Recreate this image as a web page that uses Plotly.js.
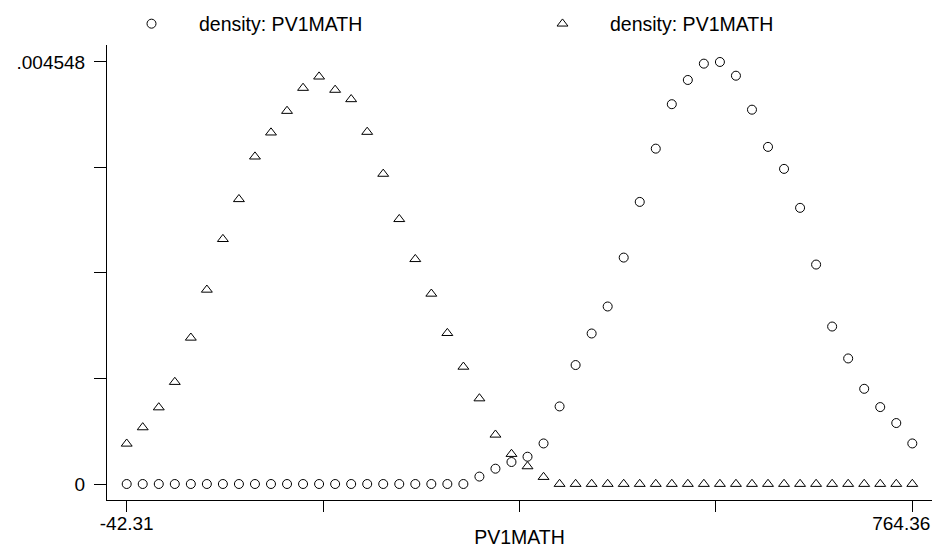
<!DOCTYPE html>
<html>
<head>
<meta charset="utf-8">
<script src="https://cdn.plot.ly/plotly-3.0.1.min.js"></script>
<style>html,body{margin:0;padding:0;background:#fff;}#chart{width:933px;height:548px;}</style>
</head>
<body>
<div id="chart"></div>
<script>
// Evaluation grid: 50 points from -42.31 to 764.36
const xMin = -42.31;
const xMax = 764.36;
const nPoints = 50;
const xGrid = [];
for (let i = 0; i < nPoints; i++) xGrid.push(xMin + i * (xMax - xMin) / (nPoints - 1));

// density values (circles)
const densityCircle = [
  0, 0, 0, 0, 0, 0, 0, 0, 0, 0,
  0, 0, 0, 0, 0, 0, 0, 0, 0, 0,
  0, 0, 0.000080, 0.000165, 0.000237, 0.000294, 0.000437, 0.000836, 0.001282, 0.001622,
  0.001913, 0.002440, 0.003040, 0.003614, 0.004093, 0.004354, 0.004530, 0.004548, 0.004400, 0.004034,
  0.003633, 0.003396, 0.002976, 0.002365, 0.001697, 0.001353, 0.001026, 0.000829, 0.000657, 0.000437
];
// density values (triangles)
const densityTriangle = [
  0.000434, 0.000610, 0.000825, 0.001099, 0.001576, 0.002093, 0.002639, 0.003069, 0.003528, 0.003787,
  0.004020, 0.004268, 0.004390, 0.004247, 0.004146, 0.003794, 0.003342, 0.002854, 0.002423, 0.002050,
  0.001626, 0.001263, 0.000922, 0.000531, 0.000323, 0.000190, 0.000075, 0, 0, 0,
  0, 0, 0, 0, 0, 0, 0, 0, 0, 0,
  0, 0, 0, 0, 0, 0, 0, 0, 0, 0
];

const seriesNames = ["density: PV1MATH", "density: PV1MATH"];
const yMaxLabel = 0.004548;
const yTickVals = [0, yMaxLabel / 4, yMaxLabel / 2, 3 * yMaxLabel / 4, yMaxLabel];
const yTickText = ["0", "", "", "", ".004548"];
const xTickVals = [xMin, xMin + (xMax - xMin) / 4, xMin + (xMax - xMin) / 2, xMin + 3 * (xMax - xMin) / 4, xMax];
const xTickText = ["-42.31", "", "", "", ""];
const xEndTickVals = [xMax];
const xEndTickText = ["764.36"];
const xTitle = "PV1MATH";

const font = "Liberation Sans, Arial, sans-serif";

const traces = [
  {
    x: xGrid, y: densityCircle, name: seriesNames[0], type: "scatter", mode: "markers",
    marker: {symbol: "circle-open", size: 9, color: "#000", line: {width: 1, color: "#000"}}
  },
  {
    x: xGrid, y: densityTriangle, name: seriesNames[1], type: "scatter", mode: "markers",
    xaxis: "x2",
    marker: {symbol: "triangle-up-open", size: 9.5, color: "#000", line: {width: 1, color: "#000"}}
  }
];

const xRange = [-62.54, 784.59];

const layout = {
  width: 933, height: 548,
  margin: {l: 107, r: 1, t: 45, b: 48},
  paper_bgcolor: "#fff", plot_bgcolor: "#fff",
  font: {family: font, size: 19, color: "#000"},
  showlegend: true,
  legend: {
    orientation: "h", xref: "container", yref: "container",
    x: 104 / 933, xanchor: "left", y: 1 - 24 / 548, yanchor: "middle",
    itemwidth: 85, entrywidth: 311, entrywidthmode: "pixels",
    font: {family: font, size: 19.5, color: "#000"},
    bgcolor: "rgba(0,0,0,0)", borderwidth: 0, tracegroupgap: 0
  },
  xaxis: {
    range: xRange, showgrid: false, zeroline: false,
    showline: true, linecolor: "#000", linewidth: 1,
    ticks: "outside", ticklen: 11, tickcolor: "#000", tickwidth: 1,
    tickvals: xTickVals, ticktext: xTickText, tickfont: {size: 19},
    ticklabelstandoff: -5,
    title: {text: xTitle, font: {size: 19.5}, standoff: 5},
    fixedrange: true
  },
  xaxis2: {
    overlaying: "x", anchor: "y", side: "bottom",
    range: xRange, showgrid: false, zeroline: false, showline: false,
    ticks: "outside", ticklen: 11, tickcolor: "#000", tickwidth: 1,
    tickvals: xEndTickVals, ticktext: xEndTickText, tickfont: {size: 19},
    ticklabelstandoff: -5, ticklabelshift: -11,
    fixedrange: true
  },
  yaxis: {
    range: [-0.0001724, 0.004731], showgrid: false, zeroline: false,
    showline: true, linecolor: "#000", linewidth: 1,
    ticks: "outside", ticklen: 12, tickcolor: "#000", tickwidth: 1,
    tickvals: yTickVals, ticktext: yTickText, tickfont: {size: 19},
    ticklabelstandoff: 5,
    fixedrange: true
  }
};

Plotly.newPlot("chart", traces, layout, {displayModeBar: false, staticPlot: true});
</script>
</body>
</html>
